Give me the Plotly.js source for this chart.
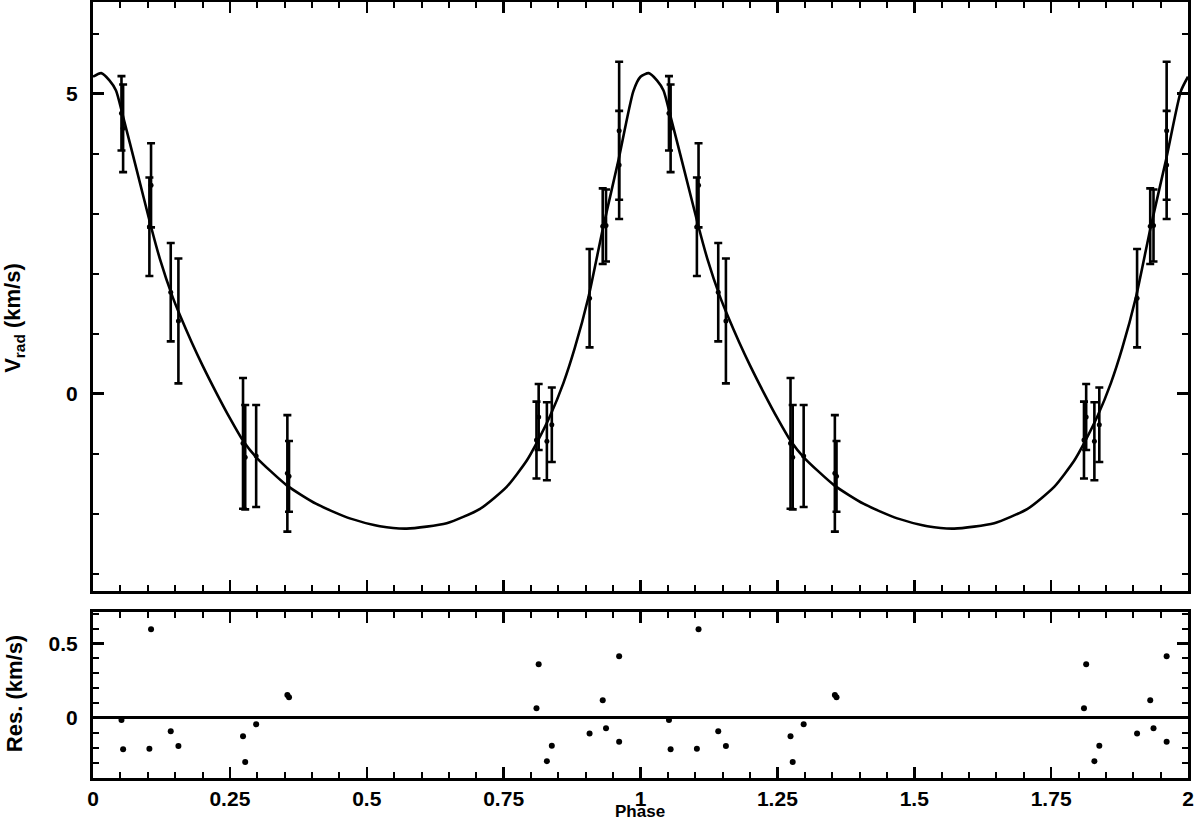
<!DOCTYPE html>
<html>
<head>
<meta charset="utf-8">
<script src="https://cdn.plot.ly/plotly-3.0.1.min.js"></script>
<style>
  html, body { margin: 0; padding: 0; background: #fff; }
  #plot { width: 1200px; height: 821px; }
</style>
</head>
<body>
<div id="plot"></div>
<script>
// fitted velocity curve
var curvePhase = [0.000, 0.015, 0.030, 0.042, 0.054, 0.080, 0.106, 0.122, 0.145, 0.160,
  0.180, 0.200, 0.226, 0.250, 0.275, 0.299, 0.354, 0.408, 0.469, 0.524,
  0.573, 0.646, 0.707, 0.756, 0.792, 0.810, 0.835, 0.859, 0.880, 0.905,
  0.932, 0.960, 0.987, 1.000];
var curveVel = [5.28, 5.34, 5.22, 5.05, 4.65, 3.72, 2.78, 2.25, 1.62, 1.28,
  0.86, 0.47, 0.00, -0.41, -0.80, -1.07, -1.53, -1.84, -2.08, -2.21,
  -2.25, -2.16, -1.92, -1.55, -1.12, -0.83, -0.37, 0.17, 0.76, 1.61,
  2.78, 3.90, 5.04, 5.28];

// measured radial velocities (one cycle)
var obsPhase = [0.052, 0.055, 0.103, 0.106, 0.142, 0.156, 0.274, 0.278, 0.298, 0.355,
  0.358, 0.810, 0.814, 0.829, 0.838, 0.907, 0.931, 0.937, 0.961, 0.961];
var obsVel = [4.67, 4.42, 2.78, 3.47, 1.69, 1.21, -0.83, -1.06, -1.04, -1.33,
  -1.38, -0.775, -0.39, -0.795, -0.52, 1.59, 2.79, 2.80, 4.38, 3.81];
var obsErr = [0.62, 0.73, 0.82, 0.70, 0.82, 1.04, 1.09, 0.87, 0.85, 0.97,
  0.59, 0.64, 0.55, 0.65, 0.62, 0.82, 0.63, 0.60, 1.15, 0.90];
var obsRes = [-0.013, -0.21, -0.207, 0.595, -0.09, -0.188, -0.123, -0.295, -0.043, 0.154,
  0.139, 0.065, 0.36, -0.29, -0.186, -0.105, 0.119, -0.069, 0.414, -0.159];

// phase-folded plot shows two cycles
function twoCycles(arr) {
  return arr.concat(arr.map(function (p) { return p + 1; }));
}
function twice(arr) {
  return arr.concat(arr);
}

var cx = curvePhase.concat(curvePhase.slice(1).map(function (p) { return p + 1; }));
var cy = curveVel.concat(curveVel.slice(1));

var fam = "Liberation Sans, Arial, sans-serif";
var tickFont = { family: fam, size: 21, color: "black", weight: "bold" };
var labelFont = { family: fam, size: 22, color: "black", weight: "bold" };

var traces = [
  {
    x: cx,
    y: cy,
    mode: "lines",
    line: { color: "black", width: 2.6, shape: "spline", smoothing: 0.6 },
    xaxis: "x",
    yaxis: "y",
    hoverinfo: "skip",
  },
  {
    x: twoCycles(obsPhase),
    y: twice(obsVel),
    mode: "markers",
    marker: { color: "black", size: 5 },
    error_y: { type: "data", array: twice(obsErr), visible: true, color: "black", thickness: 2.6, width: 4 },
    xaxis: "x",
    yaxis: "y",
  },
  {
    x: twoCycles(obsPhase),
    y: twice(obsRes),
    mode: "markers",
    marker: { color: "black", size: 6 },
    xaxis: "x2",
    yaxis: "y2",
  },
];

var frame = {
  showline: true,
  linecolor: "black",
  linewidth: 3,
  mirror: "ticks",
  ticks: "inside",
  tickcolor: "black",
  tickwidth: 2.5,
  ticklen: 11,
  showgrid: false,
  zeroline: false,
  fixedrange: true,
  tickfont: tickFont,
};

var layout = {
  width: 1200,
  height: 821,
  margin: { l: 93, r: 12, t: 2, b: 43 },
  paper_bgcolor: "white",
  plot_bgcolor: "white",
  showlegend: false,
  xaxis: Object.assign({}, frame, {
    domain: [0, 1],
    anchor: "y",
    range: [0, 2],
    dtick: 0.25,
    tick0: 0,
    showticklabels: false,
    minor: { dtick: 0.05, ticks: "inside", ticklen: 6, tickwidth: 2, tickcolor: "black" },
  }),
  yaxis: Object.assign({}, frame, {
    domain: [0.241, 1],
    anchor: "x",
    range: [-3.29, 6.525],
    dtick: 5,
    tick0: 0,
    ticklabelstandoff: 8,
    minor: { dtick: 1, ticks: "inside", ticklen: 6, tickwidth: 2, tickcolor: "black" },
  }),
  xaxis2: Object.assign({}, frame, {
    domain: [0, 1],
    anchor: "y2",
    range: [0, 2],
    dtick: 0.25,
    tick0: 0,
    minor: { dtick: 0.05, ticks: "inside", ticklen: 6, tickwidth: 2, tickcolor: "black" },
  }),
  yaxis2: Object.assign({}, frame, {
    domain: [0, 0.2139],
    anchor: "x2",
    range: [-0.403, 0.711],
    dtick: 0.5,
    tick0: 0,
    ticklabelstandoff: 8,
    zeroline: true,
    zerolinecolor: "black",
    zerolinewidth: 3,
    minor: { dtick: 0.1, ticks: "inside", ticklen: 6, tickwidth: 2, tickcolor: "black" },
  }),
  annotations: [
    {
      text: "V<sub>rad</sub> (km/s)",
      xref: "paper", yref: "paper",
      x: 0, xshift: -79, y: 0.593,
      xanchor: "center", yanchor: "middle",
      textangle: -90,
      showarrow: false,
      font: labelFont,
    },
    {
      text: "Res. (km/s)",
      xref: "paper", yref: "paper",
      x: 0, xshift: -79, y: 0.108,
      xanchor: "center", yanchor: "middle",
      textangle: -90,
      showarrow: false,
      font: labelFont,
    },
    {
      text: "Phase",
      xref: "paper", yref: "paper",
      x: 0.4995, y: 0, yshift: -33,
      xanchor: "center", yanchor: "middle",
      borderpad: 0,
      showarrow: false,
      font: { family: fam, size: 17, color: "black", weight: "bold" },
    },
  ],
};

Plotly.newPlot("plot", traces, layout, { displayModeBar: false, staticPlot: true });
</script>
</body>
</html>
